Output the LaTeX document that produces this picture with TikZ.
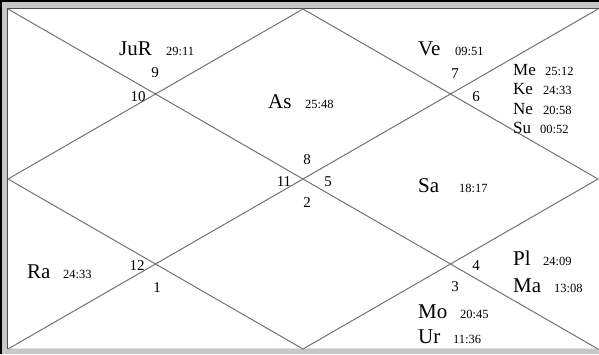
\documentclass[tikz,border=0pt]{standalone}
\usepackage{fontspec}
\setmainfont{Liberation Serif}
\begin{document}
\begin{tikzpicture}[x=1pt,y=-1pt,
  chartline/.style={draw=black!55,line width=1pt},
  planet/.style={anchor=base west,inner sep=0pt,font=\fontsize{21}{23}\selectfont},
  planetsm/.style={anchor=base west,inner sep=0pt,font=\fontsize{17}{19}\selectfont},
  deg/.style={anchor=base west,inner sep=0pt,font=\fontsize{12.5}{14}\selectfont},
  house/.style={anchor=center,inner sep=0pt,font=\fontsize{15}{17}\selectfont}]
\useasboundingbox (0,0) rectangle (599,354);
% frame
\fill[black!22] (0,0) rectangle (599,354);
\draw[black,line width=1.5pt] (0.75,354) -- (0.75,0.75) -- (599,0.75);
\fill[white] (7.5,8.5) rectangle (599,348.5);
\draw[black!70,line width=1pt] (7.5,348.5) -- (7.5,8.5) -- (599,8.5);
\draw[black!12,line width=1pt] (7.5,348.5) -- (599,348.5);
% corners and midpoints
\coordinate (tl) at (8,9);
\coordinate (tr) at (598,9);
\coordinate (br) at (598,349);
\coordinate (bl) at (8,349);
\coordinate (tm) at (303,9);
\coordinate (rm) at (598,179);
\coordinate (bm) at (303,349);
\coordinate (lm) at (8,179);
\draw[chartline] (tl) -- (br);
\draw[chartline] (tr) -- (bl);
\draw[chartline] (tm) -- (rm) -- (bm) -- (lm) -- cycle;
% house numbers
\node[house] (h1) at (157,288) {1};
\node[house] (h2) at (307,203) {2};
\node[house] (h3) at (455,287) {3};
\node[house] (h4) at (476,266) {4};
\node[house] (h5) at (328,182) {5};
\node[house] (h6) at (476,97) {6};
\node[house] (h7) at (455,74) {7};
\node[house] (h8) at (307,160) {8};
\node[house] (h9) at (155,73) {9};
\node[house] (h10) at (138,97) {10};
\node[house] (h11) at (284,182) {11};
\node[house] (h12) at (137,266) {12};
% planets
\node[planet] (jur) at (119,55) {JuR};
\node[deg] (jurd) at (166,55) {29:11};
\node[planet] (ve) at (418,55) {Ve};
\node[deg] (ved) at (455,55) {09:51};
\node[planetsm] (me) at (513,75) {Me};
\node[deg] (med) at (545,75) {25:12};
\node[planetsm] (ke) at (513,94.5) {Ke};
\node[deg] (ked) at (543,94.5) {24:33};
\node[planetsm] (ne) at (513,114) {Ne};
\node[deg] (ned) at (543,114) {20:58};
\node[planetsm] (su) at (513,133) {Su};
\node[deg] (sud) at (540,133) {00:52};
\node[planet] (as) at (268,108) {As};
\node[deg] (asd) at (305,108) {25:48};
\node[planet] (sa) at (418,192) {Sa};
\node[deg] (sad) at (459,192) {18:17};
\node[planet] (ra) at (27,278) {Ra};
\node[deg] (rad) at (63,278) {24:33};
\node[planet] (pl) at (513,265) {Pl};
\node[deg] (pld) at (543,265) {24:09};
\node[planet] (ma) at (513,292) {Ma};
\node[deg] (mad) at (554,292) {13:08};
\node[planet] (mo) at (418,318) {Mo};
\node[deg] (mod) at (460,318) {20:45};
\node[planet] (ur) at (418,343) {Ur};
\node[deg] (urd) at (453,343) {11:36};
\end{tikzpicture}
\end{document}
